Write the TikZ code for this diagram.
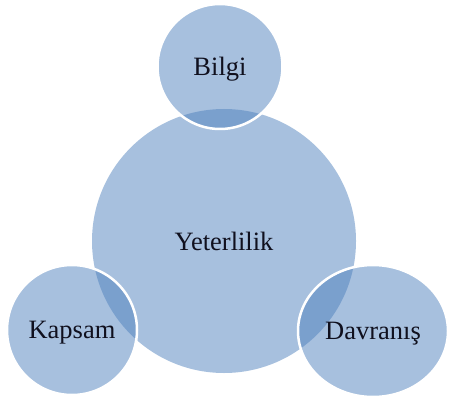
\documentclass[tikz,border=0pt]{standalone}
\usepackage{fontspec}
\setmainfont{Liberation Serif}
\usetikzlibrary{shapes.geometric}
\definecolor{vennblue}{HTML}{4F81BD}
\definecolor{labeltext}{HTML}{10101E}
\tikzset{
venn/.style={shape=circle, fill=vennblue, fill opacity=0.5, text opacity=1, text=labeltext, font=\fontsize{26.5}{31}\selectfont, inner sep=0pt, text depth=0pt},
part/.style={venn, draw=white, line width=2.5pt}
}
\begin{document}
\begin{tikzpicture}[x=1pt,y=-1pt]
    \useasboundingbox (0,0) rectangle (449,398);

                \node[venn, minimum size=264pt] (Y) at (224,241) {Yeterlilik};
                \node[part, minimum size=125pt] (B) at (220,66.5) {Bilgi};
                \node[part, minimum size=130pt] (K) at (72,330) {Kapsam};
                \node[part, shape=ellipse, minimum width=150pt, minimum height=132pt] (D) at (373,331) {Davranış};

\end{tikzpicture}
\end{document}
